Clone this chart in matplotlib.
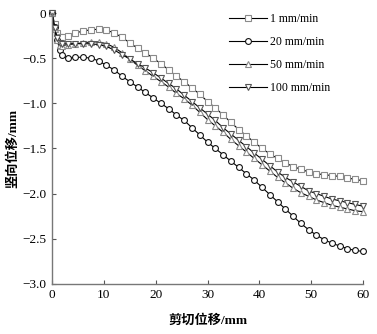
import matplotlib
matplotlib.use("Agg")
import matplotlib.pyplot as plt

plt.rcParams["font.family"] = ["Liberation Serif", "Noto Sans CJK SC"]
plt.rcParams["axes.unicode_minus"] = True

# shear displacement (mm)
shear = [0, 0.5, 1, 1.5, 2, 3, 4.5, 6, 7.5, 9, 10.5, 12, 13.5, 15, 16.5, 18,
         19.5, 21, 22.5, 24, 25.5, 27, 28.5, 30, 31.5, 33, 34.5, 36, 37.5, 39,
         40.5, 42, 43.5, 45, 46.5, 48, 49.5, 51, 52.5, 54, 55.5, 57, 58.5, 60]

# vertical displacement (mm) per shear rate
v_1 = [0, -0.12, -0.22, -0.27, -0.27, -0.25, -0.22, -0.20, -0.185, -0.18,
       -0.19, -0.22, -0.27, -0.33, -0.39, -0.44, -0.50, -0.56, -0.63, -0.70,
       -0.76, -0.83, -0.90, -0.98, -1.05, -1.13, -1.21, -1.29, -1.36, -1.43,
       -1.50, -1.56, -1.61, -1.66, -1.70, -1.73, -1.76, -1.78, -1.79, -1.80,
       -1.81, -1.83, -1.84, -1.86]
v_20 = [0, -0.15, -0.30, -0.41, -0.47, -0.50, -0.49, -0.49, -0.50, -0.53,
        -0.58, -0.63, -0.70, -0.76, -0.82, -0.88, -0.94, -1.00, -1.06, -1.13,
        -1.19, -1.27, -1.35, -1.43, -1.50, -1.57, -1.64, -1.71, -1.78, -1.85,
        -1.93, -2.01, -2.09, -2.17, -2.25, -2.33, -2.40, -2.46, -2.51, -2.55,
        -2.58, -2.61, -2.63, -2.64]
v_50 = [0, -0.18, -0.30, -0.35, -0.36, -0.35, -0.34, -0.33, -0.32, -0.32,
        -0.34, -0.38, -0.44, -0.51, -0.58, -0.64, -0.70, -0.76, -0.82, -0.89,
        -0.95, -1.02, -1.10, -1.18, -1.25, -1.32, -1.40, -1.47, -1.54, -1.61,
        -1.68, -1.75, -1.82, -1.88, -1.94, -1.99, -2.03, -2.07, -2.10, -2.13,
        -2.15, -2.17, -2.19, -2.20]
v_100 = [0, -0.17, -0.28, -0.33, -0.34, -0.34, -0.34, -0.34, -0.34, -0.35,
         -0.37, -0.41, -0.46, -0.51, -0.56, -0.61, -0.66, -0.72, -0.78, -0.84,
         -0.91, -0.98, -1.05, -1.12, -1.19, -1.27, -1.34, -1.41, -1.48, -1.55,
         -1.62, -1.69, -1.76, -1.82, -1.87, -1.92, -1.97, -2.00, -2.03, -2.06,
         -2.08, -2.10, -2.12, -2.14]

labels = ["1 mm/min", "20 mm/min", "50 mm/min", "100 mm/min"]
markers = ["s", "o", "^", "v"]
edge_colors = ["#8a8a8a", "#111111", "#8a8a8a", "#555555"]
series = [v_1, v_20, v_50, v_100]

fig = plt.figure(figsize=(3.77, 3.34), dpi=100)
ax = fig.add_axes([0.138, 0.150, 0.825, 0.811])

for ys, lab, m, ec in zip(series, labels, markers, edge_colors):
    ax.plot(shear, ys, color="black", lw=0.8, marker=m, markersize=4.2,
            markerfacecolor="white", markeredgecolor=ec, markeredgewidth=0.8,
            label=lab, clip_on=False)

ax.set_xlim(0, 60)
ax.set_ylim(-3.0, 0)
ax.set_xticks([0, 10, 20, 30, 40, 50, 60])
yt = [0, -0.5, -1.0, -1.5, -2.0, -2.5, -3.0]
ax.set_yticks(yt)
ax.set_yticklabels(["0"] + [f"\u2212{abs(v):.1f}" for v in yt[1:]])

for s in ["top", "right"]:
    ax.spines[s].set_visible(False)
for s in ["left", "bottom"]:
    ax.spines[s].set_color("#777777")
    ax.spines[s].set_linewidth(1.0)
ax.tick_params(direction="in", length=3, width=0.8, color="#555555",
               labelsize=9.5, pad=4)

ax.set_xlabel("剪切位移/mm", fontsize=9.5, fontweight="bold", labelpad=9)
ax.set_ylabel("竖向位移/mm", fontsize=9.5, fontweight="bold", labelpad=2)

ax.legend(loc="upper right", bbox_to_anchor=(0.93, 1.04), frameon=False,
          fontsize=8.5, labelspacing=0.95, handlelength=3.2, handletextpad=0.3)

fig.savefig("out.png", dpi=100)
